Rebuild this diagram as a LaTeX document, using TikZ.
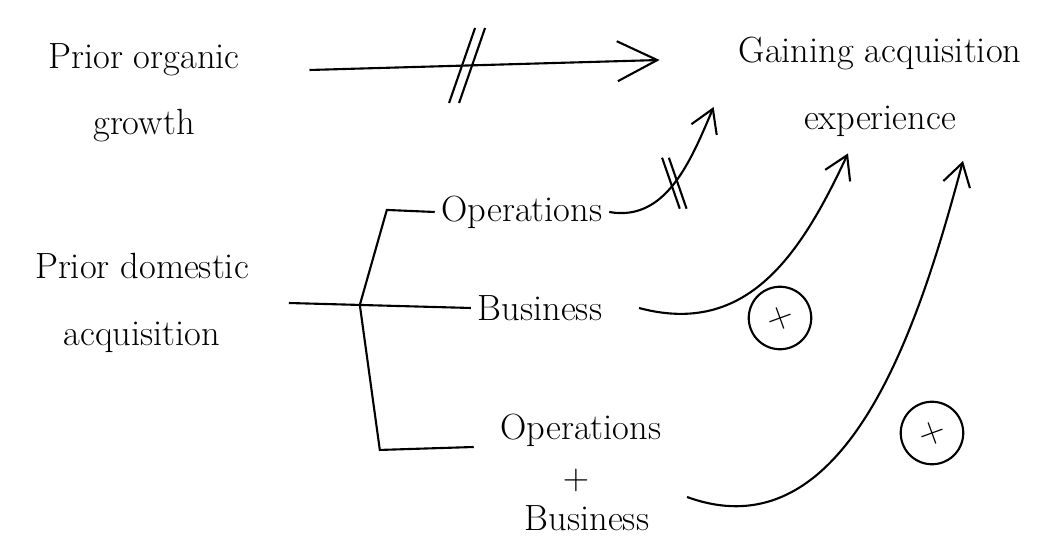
\documentclass[tikz,border=0pt]{standalone}
\usetikzlibrary{arrows.meta}
\begin{document}
\begin{tikzpicture}[very thick,
  txt/.style={font=\huge, align=center},
  plus/.style={circle, draw, minimum size=1.25cm, inner sep=0pt, font=\huge, rotate=20},
  arr/.style={-{Straight Barb[length=4.5mm,width=5.5mm]}},
  delaymark/.pic={\draw (-0.36,-0.75) -- (0.16,0.75) (-0.16,-0.75) -- (0.36,0.75);}]
  \useasboundingbox (0,0) rectangle (21.06,10.88);

  % Left causes
  \node[txt] (organic) at (2.88,9.02) {Prior organic\\[0.45cm]growth};
  \node[txt] (domestic) at (2.84,4.82) {Prior domestic\\[0.45cm]acquisition};

  % Outcome
  \node[txt] (gaining) at (17.6,9.14) {Gaining acquisition\\[0.45cm]experience};

  % Types of prior acquisition
  \node[txt] (ops) at (10.44,6.64) {Operations};
  \node[txt] (bus) at (10.8,4.72) {Business};
  \node[txt] (opsA) at (11.62,2.28) {Operations};
  \node[txt] (opsplus) at (11.52,1.28) {$+$};
  \node[txt] (opsB) at (11.74,0.52) {Business};

  % Positive effects
  \node[plus] (pos1) at (15.6,4.52) {$+$};
  \node[plus] (pos2) at (18.64,2.22) {$+$};

  % Organic growth: no effect
  \draw[-{Straight Barb[length=8mm,width=8mm]}] ([shift={(1.26,0.46)}]organic.east) -- coordinate[pos=0.45] (d1) ([shift={(-1.44,0.54)}]gaining.west);
  \pic at (d1) {delaymark};

  % Bracket
  \draw ([xshift=0.66cm]domestic.east) -- coordinate[pos=0.39] (jn) (bus.west);
  \draw (jn) -- ++(0.54,1.9) -- (ops.west);
  \draw (jn) -- ++(0.4,-2.9) -- ([shift={(-0.4,-0.34)}]opsA.west);

  % Effects on experience
  \draw[arr] (ops.east) to[out=-10, in=247] coordinate[pos=0.5] (d2) ([shift={(-0.36,-0.4)}]gaining.west);
  \pic[xscale=-1, scale=0.68] at (d2) {delaymark};
  \draw[arr] ([xshift=0.6cm]bus.east) to[out=-15, in=245, looseness=1.1] ([shift={(-0.64,-0.2)}]gaining.south);
  \draw[arr] ([shift={(0.62,0.42)}]opsB.east) to[out=-20, in=255] ([shift={(1.66,-0.35)}]gaining.south);
\end{tikzpicture}
\end{document}
